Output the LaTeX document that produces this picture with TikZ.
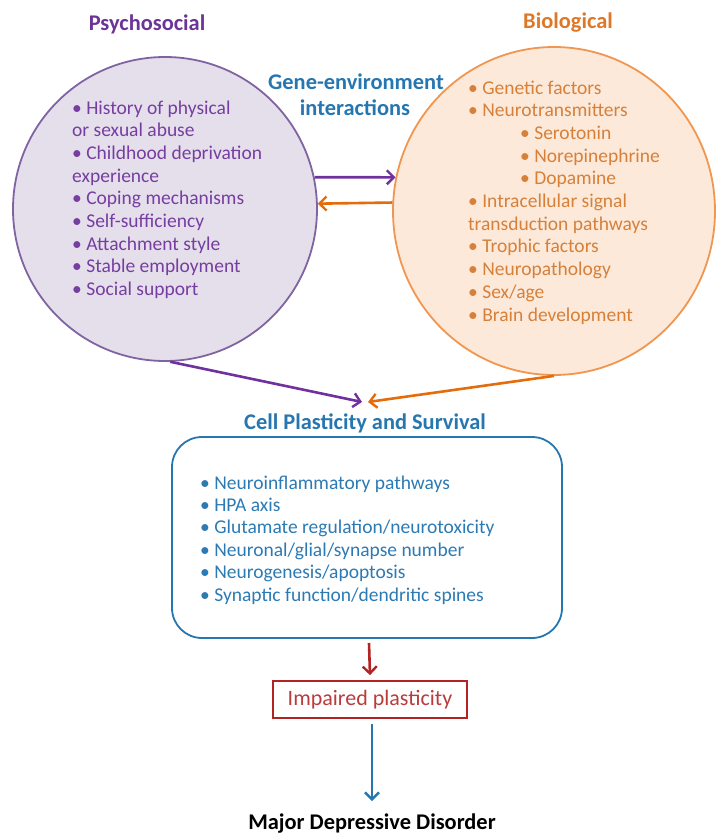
\documentclass[tikz,border=0pt]{standalone}
\usepackage{fontspec}
\setmainfont{Carlito}
\usetikzlibrary{arrows.meta,shapes.geometric}

\definecolor{psyText}{RGB}{118,62,160}
\definecolor{psyDark}{RGB}{108,52,150}
\definecolor{psyFill}{RGB}{229,223,236}
\definecolor{psyLine}{RGB}{128,100,162}
\definecolor{psyArrow}{RGB}{112,48,160}
\definecolor{bioText}{RGB}{214,128,58}
\definecolor{bioDark}{RGB}{222,120,40}
\definecolor{bioFill}{RGB}{253,233,217}
\definecolor{bioLine}{RGB}{240,150,80}
\definecolor{bioArrow}{RGB}{228,108,10}
\definecolor{cellBlue}{RGB}{38,118,176}
\definecolor{cellText}{RGB}{44,122,180}
\definecolor{impRed}{RGB}{178,36,36}
\definecolor{impText}{RGB}{185,60,60}

\tikzset{
  x=1pt, y=-1pt,
  listtext/.style={font=\fontsize{19.5}{23}\selectfont, anchor=base west, inner sep=0pt},
  heading/.style={font=\fontsize{22.4}{26}\selectfont\bfseries, anchor=base, inner sep=0pt},
  flow/.style={line width=2.6pt, -{Straight Barb[length=7pt,width=14pt,line width=2.4pt]}},
}

\begin{document}
\begin{tikzpicture}
\useasboundingbox (0,0) rectangle (715,835);

% group headings
\node[heading, text=psyDark] (psyTitle) at (147,30) {Psychosocial};
\node[heading, text=bioDark] (bioTitle) at (568,28) {Biological};
\node[heading, text=cellBlue] (geneA) at (356,89) {Gene-environment};
\node[heading, text=cellBlue] (geneB) at (355,115) {interactions};

% the two factor circles
\node[circle, draw=psyLine, line width=1.8pt, fill=psyFill, minimum size=304pt, inner sep=0pt] (psy) at (165,209) {};
\node[ellipse, draw=bioLine, line width=1.8pt, fill=bioFill, minimum width=322pt, minimum height=328pt, inner sep=0pt] (bio) at (554,211) {};

% psychosocial factors
\foreach \t [count=\i from 0] in {%
  {• History of physical},
  {or sexual abuse},
  {• Childhood deprivation},
  {experience},
  {• Coping mechanisms},
  {• Self-sufficiency},
  {• Attachment style},
  {• Stable employment},
  {• Social support}}
  \node[listtext, text=psyText] (psyItem\i) at (72,114+22.7*\i) {\t};

% biological factors
\foreach \xx/\t [count=\i from 0] in {%
  468/{• Genetic factors},
  468/{• Neurotransmitters},
  520/{• Serotonin},
  520/{• Norepinephrine},
  520/{• Dopamine},
  468/{• Intracellular signal},
  468/{transduction pathways},
  468/{• Trophic factors},
  468/{• Neuropathology},
  468/{• Sex/age},
  468/{• Brain development}}
  \node[listtext, text=bioText] (bioItem\i) at (\xx,94+22.7*\i) {\t};

% gene-environment interaction arrows
\draw[flow, draw=psyArrow] (psy.12.2) -- (bio.168);
\draw[flow, draw=bioArrow] (bio.177) -- (psy.2.6);

% convergence on cell plasticity
\coordinate (meetL) at (362,402);
\coordinate (meetR) at (368,402);
\draw[flow, draw=psyArrow] (psy.272) -- (meetL);
\draw[flow, draw=bioArrow] (bio.270) -- (meetR);

\node[heading, text=cellBlue] (cellTitle) at (365,429) {Cell Plasticity and Survival};
\draw[draw=cellBlue, line width=1.8pt, rounded corners=30pt] (172,437) rectangle (562,638);
\coordinate (cellBottom) at (369,638);

\foreach \t [count=\i from 0] in {%
  {• Neuroinflammatory pathways},
  {• HPA axis},
  {• Glutamate regulation/neurotoxicity},
  {• Neuronal/glial/synapse number},
  {• Neurogenesis/apoptosis},
  {• Synaptic function/dendritic spines}}
  \node[listtext, text=cellText] (cellItem\i) at (200,489+22.4*\i) {\t};

% outcome chain
\node[draw=impRed, line width=1.8pt, minimum width=194pt, minimum height=37pt, inner sep=0pt,
      font=\fontsize{22}{26}\selectfont, text=impText] (imp) at (370,699.5) {Impaired plasticity};
\draw[flow, draw=impRed] ([yshift=-5pt]cellBottom) -- ([yshift=5pt]imp.north);

\node[heading, text=black] (mdd) at (372,829) {Major Depressive Disorder};
\draw[flow, draw=cellBlue] ([xshift=2pt,yshift=-5pt]imp.south) -- ([yshift=28pt]mdd.base);
\end{tikzpicture}
\end{document}
